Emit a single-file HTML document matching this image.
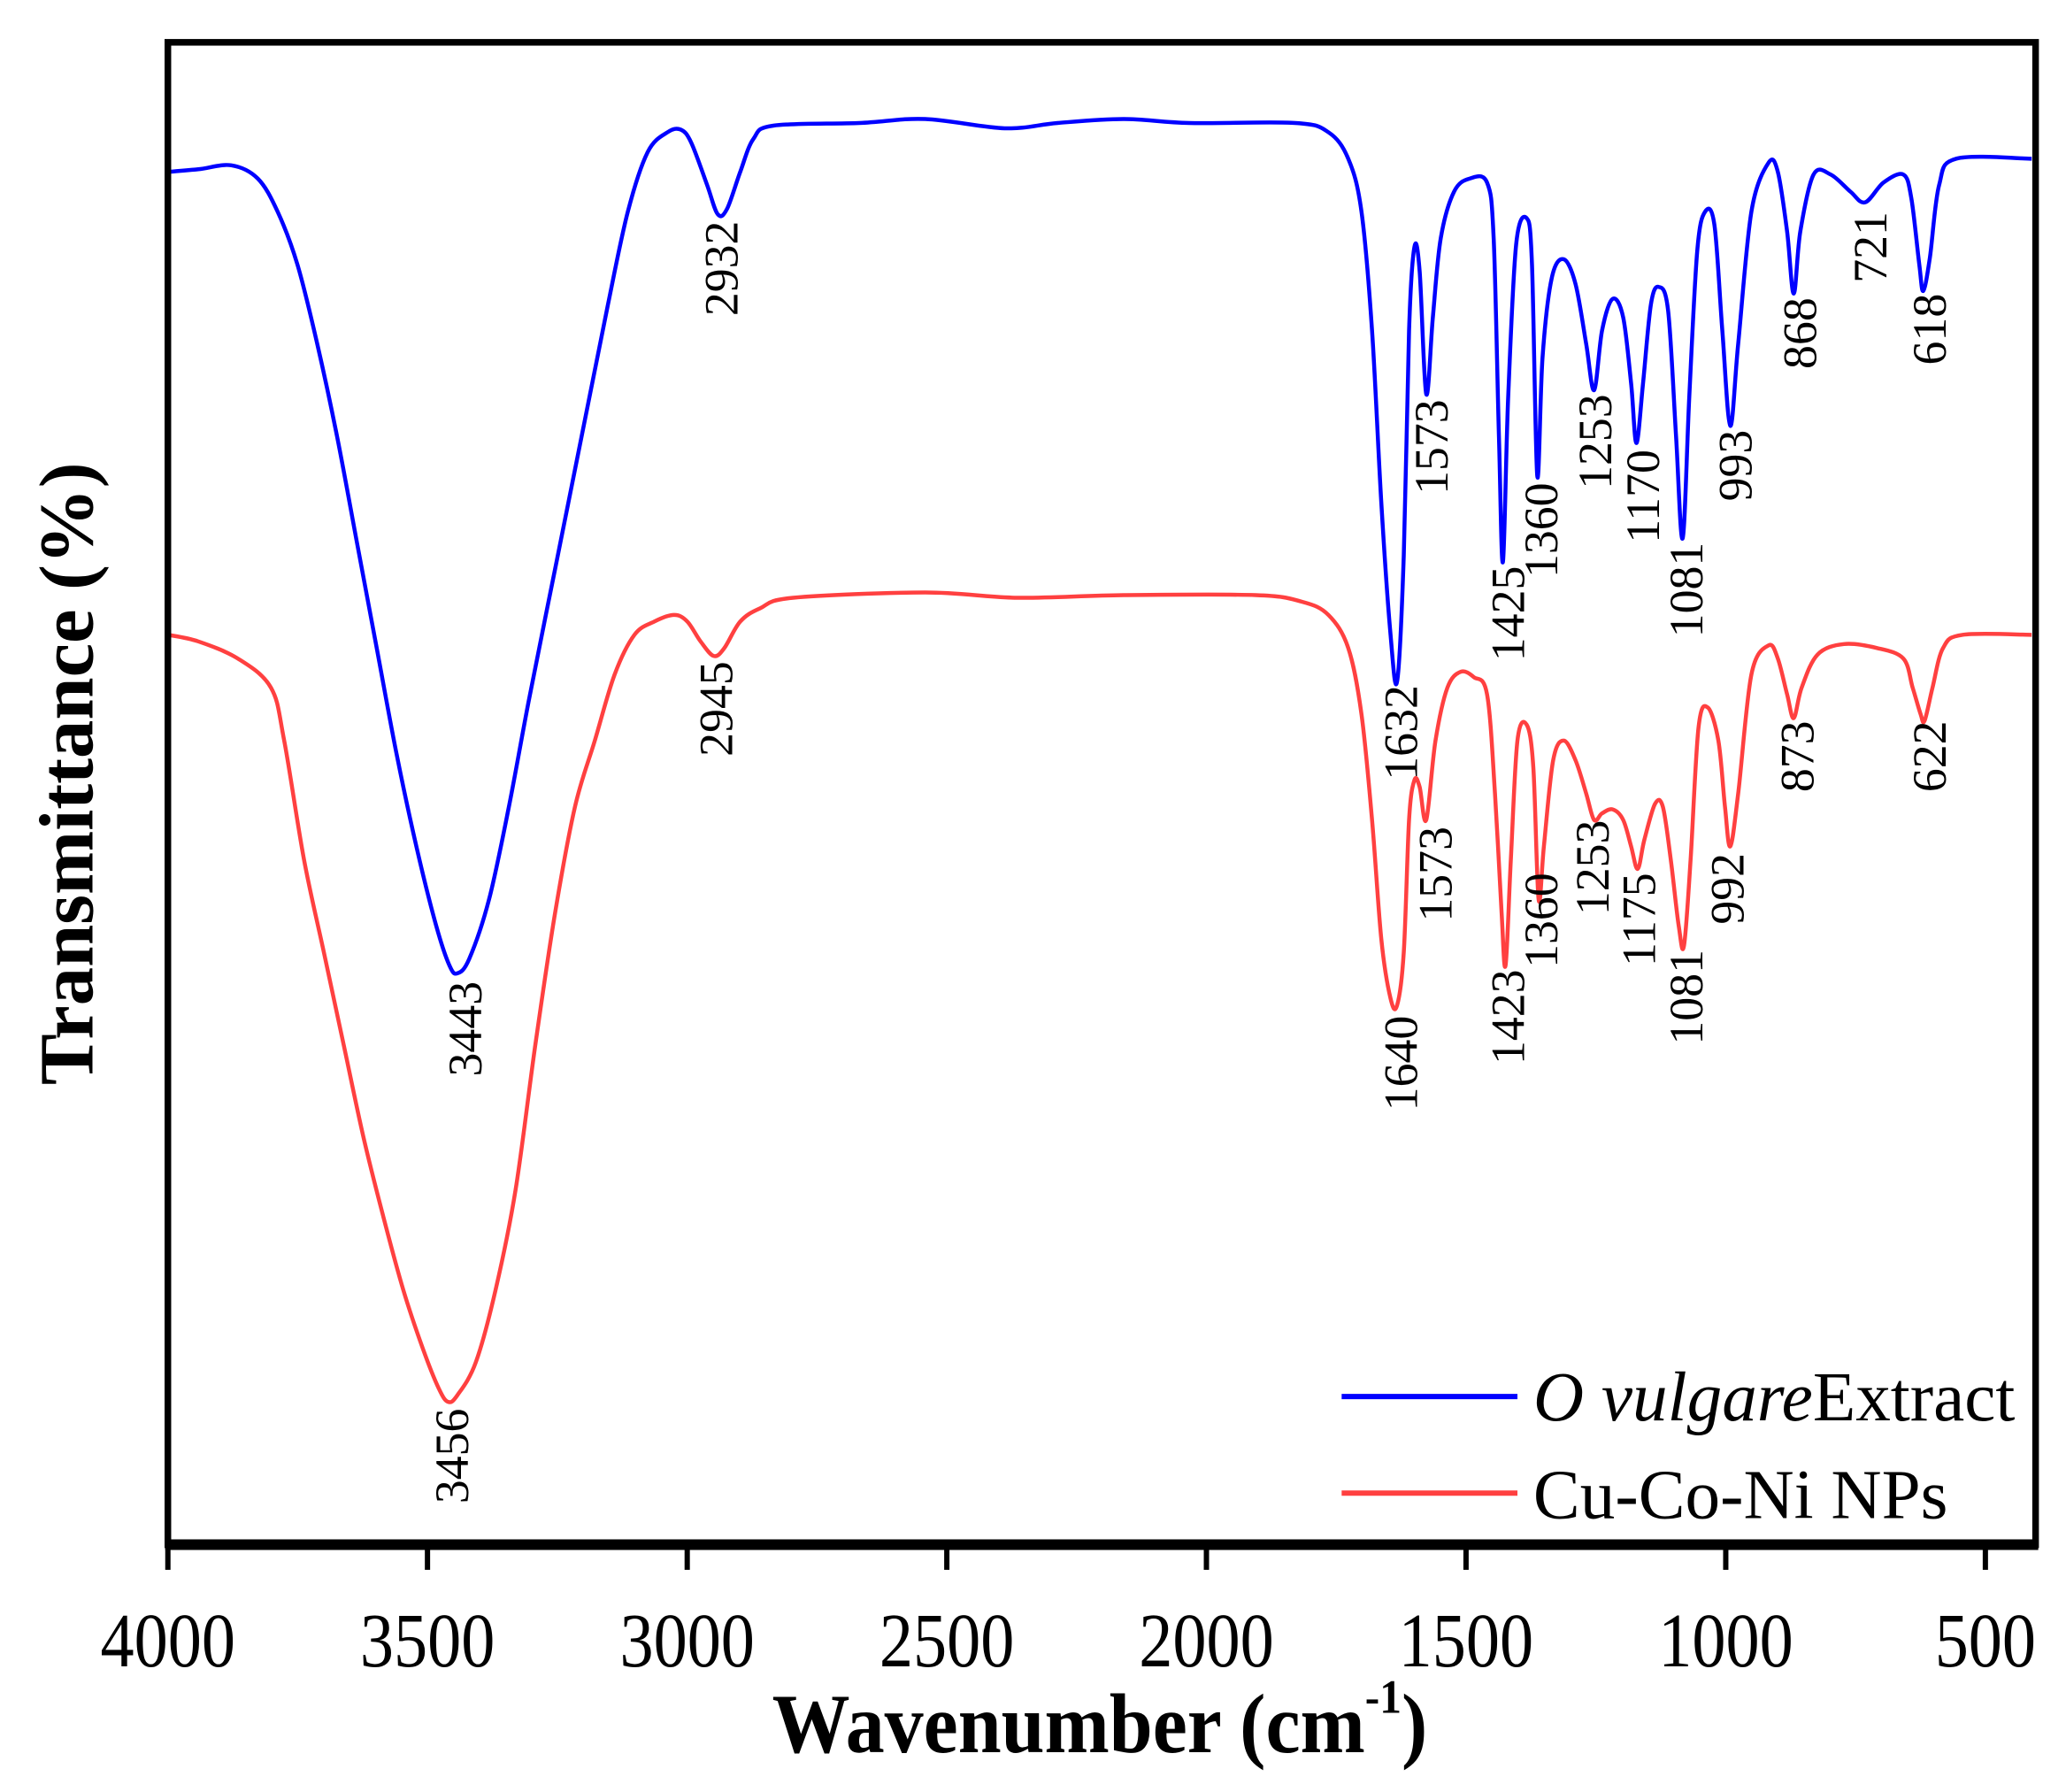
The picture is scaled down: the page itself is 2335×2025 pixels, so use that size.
<!DOCTYPE html>
<html><head><meta charset="utf-8"><style>
html,body{margin:0;padding:0;background:#fff;}
svg{display:block;}
text{font-family:"Liberation Serif",serif;}
</style></head><body>
<svg id="s" width="2335" height="2025" viewBox="0 0 1563 1355" preserveAspectRatio="none" xmlns="http://www.w3.org/2000/svg">
<rect x="0" y="0" width="1563" height="1355" fill="#fff"/>
<path id="blue" fill="none" stroke="#0000ff" stroke-width="3" stroke-linejoin="round"/>
<path id="red" fill="none" stroke="#ff4040" stroke-width="3" stroke-linejoin="round"/>
<rect x="127" y="32" width="1413" height="1136" fill="none" stroke="#000" stroke-width="5"/>
<line x1="125" y1="1168" x2="1542" y2="1168" stroke="#000" stroke-width="8"/>
<g stroke="#000" stroke-width="4">
<line x1="127" y1="1168" x2="127" y2="1187"/><line x1="323.4" y1="1168" x2="323.4" y2="1187"/>
<line x1="519.9" y1="1168" x2="519.9" y2="1187"/><line x1="716.3" y1="1168" x2="716.3" y2="1187"/>
<line x1="912.7" y1="1168" x2="912.7" y2="1187"/><line x1="1109.1" y1="1168" x2="1109.1" y2="1187"/>
<line x1="1305.6" y1="1168" x2="1305.6" y2="1187"/><line x1="1502" y1="1168" x2="1502" y2="1187"/>
</g>
<g font-size="58" text-anchor="middle" fill="#000">
<text transform="translate(127,1260) scale(0.88,1)">4000</text><text transform="translate(323.4,1260) scale(0.88,1)">3500</text><text transform="translate(519.9,1260) scale(0.88,1)">3000</text>
<text transform="translate(716.3,1260) scale(0.88,1)">2500</text><text transform="translate(912.7,1260) scale(0.88,1)">2000</text><text transform="translate(1109.1,1260) scale(0.88,1)">1500</text>
<text transform="translate(1305.6,1260) scale(0.88,1)">1000</text><text transform="translate(1502,1260) scale(0.88,1)">500</text>
</g>
<text transform="translate(832,1325) scale(0.92,1)" font-size="64" font-weight="bold" text-anchor="middle">Wavenumber (cm<tspan font-size="36" dy="-30">-1</tspan><tspan dy="30">)</tspan></text>
<text transform="translate(70,585) rotate(-90)" font-size="58" font-weight="bold" text-anchor="middle">Transmittance (%)</text>
<line x1="1015" y1="1056" x2="1148" y2="1056" stroke="#0000ff" stroke-width="4"/>
<line x1="1015" y1="1129" x2="1148" y2="1129" stroke="#ff4040" stroke-width="4"/>
<text x="1160" y="1074" font-size="53"><tspan font-style="italic">O vulgare</tspan>Extract</text>
<text x="1160" y="1148" font-size="53">Cu-Co-Ni NPs</text>
<g id="labels" font-size="36" text-anchor="end" fill="#000"></g>
</svg>
<script>
function path(p){var d="M"+p[0][0]+","+p[0][1];for(var i=0;i<p.length-1;i++){var a=p[i-1]||p[i],b=p[i],c=p[i+1],e=p[i+2]||c;
var c1x=b[0]+(c[0]-a[0])/6,c1y=b[1]+(c[1]-a[1])/6,c2x=c[0]-(e[0]-b[0])/6,c2y=c[1]-(e[1]-b[1])/6;
d+=" C"+c1x.toFixed(1)+","+c1y.toFixed(1)+" "+c2x.toFixed(1)+","+c2y.toFixed(1)+" "+c[0]+","+c[1];}return d;}
var B=[[127,130],[150,128],[175,125],[195,135],[210,160],[225,200],[240,260],[255,330],[270,410],[285,490],[300,570],[315,640],[330,700],[340,730],[346,736],[355,725],[370,680],[385,610],[400,530],[420,430],[440,330],[460,230],[475,160],[490,115],[505,100],[515,98],[523,108],[535,140],[543,162],[550,158],[560,130],[570,105],[585,95],[650,93],[700,90],[760,97],[800,93],[850,90],[900,93],[980,93],[1005,100],[1020,120],[1030,160],[1038,250],[1045,380],[1052,480],[1057,515],[1062,420],[1066,250],[1070,187],[1074,205],[1079,298],[1084,240],[1090,180],[1100,145],[1112,135],[1125,138],[1130,180],[1134,330],[1137,425],[1141,300],[1147,185],[1155,165],[1159,200],[1163,360],[1167,270],[1174,210],[1183,196],[1192,215],[1200,260],[1206,295],[1212,250],[1220,226],[1228,240],[1234,290],[1238,335],[1243,290],[1249,230],[1255,217],[1262,235],[1268,330],[1273,407],[1278,300],[1284,190],[1290,160],[1297,170],[1303,250],[1309,322],[1315,260],[1325,160],[1338,123],[1345,130],[1352,175],[1357,222],[1362,175],[1372,132],[1385,132],[1400,145],[1411,153],[1425,138],[1440,132],[1446,150],[1452,200],[1455,220],[1460,195],[1467,140],[1480,120],[1537,120]];
var R=[[127,480],[150,485],[180,498],[205,520],[215,560],[230,650],[245,720],[260,790],[275,860],[290,920],[305,975],[320,1020],[332,1050],[339,1060],[346,1055],[360,1030],[375,975],[390,900],[405,790],[420,690],[435,610],[450,560],[465,510],[480,480],[495,470],[510,465],[520,470],[530,485],[540,496],[548,490],[560,470],[575,460],[600,452],[700,448],[770,452],[850,450],[950,450],[985,455],[1005,465],[1020,490],[1030,540],[1038,620],[1045,710],[1052,755],[1057,760],[1062,720],[1066,620],[1070,590],[1074,595],[1079,620],[1086,560],[1095,520],[1105,508],[1115,512],[1125,525],[1131,600],[1136,690],[1139,730],[1143,650],[1148,560],[1155,548],[1160,580],[1164,680],[1168,640],[1175,575],[1183,560],[1192,575],[1200,600],[1206,620],[1212,615],[1220,612],[1228,620],[1234,640],[1239,657],[1244,635],[1252,608],[1258,610],[1264,650],[1270,700],[1274,715],[1279,650],[1285,550],[1292,535],[1300,560],[1305,610],[1309,640],[1315,600],[1325,510],[1338,488],[1345,498],[1352,525],[1357,543],[1363,520],[1375,495],[1395,487],[1420,490],[1440,498],[1447,520],[1453,540],[1456,545],[1462,520],[1470,490],[1485,480],[1537,480]];
document.getElementById("blue").setAttribute("d",path(B));
document.getElementById("red").setAttribute("d",path(R));
var L=[["2932",546,167],["3443",352,742],["1573",1083,302],["1632",1060,518],["1425",1141,428],["1360",1166,365],["1253",1207,298],["1170",1243,340],["1081",1276,410],["993",1313,325],["868",1362,225],["721",1415,160],["618",1460,222],
["2945",542,500],["3456",342,1065],["1640",1060,768],["1573",1086,625],["1423",1141,733],["1360",1166,660],["1253",1205,620],["1175",1240,660],["1081",1276,718],["992",1307,645],["873",1360,545],["622",1460,545]];
var g=document.getElementById("labels"),h="";
L.forEach(function(l){h+='<text transform="translate('+(l[1]+12)+','+l[2]+') rotate(-90)">'+l[0]+'</text>';});
g.innerHTML=h;
</script>
</body></html>
